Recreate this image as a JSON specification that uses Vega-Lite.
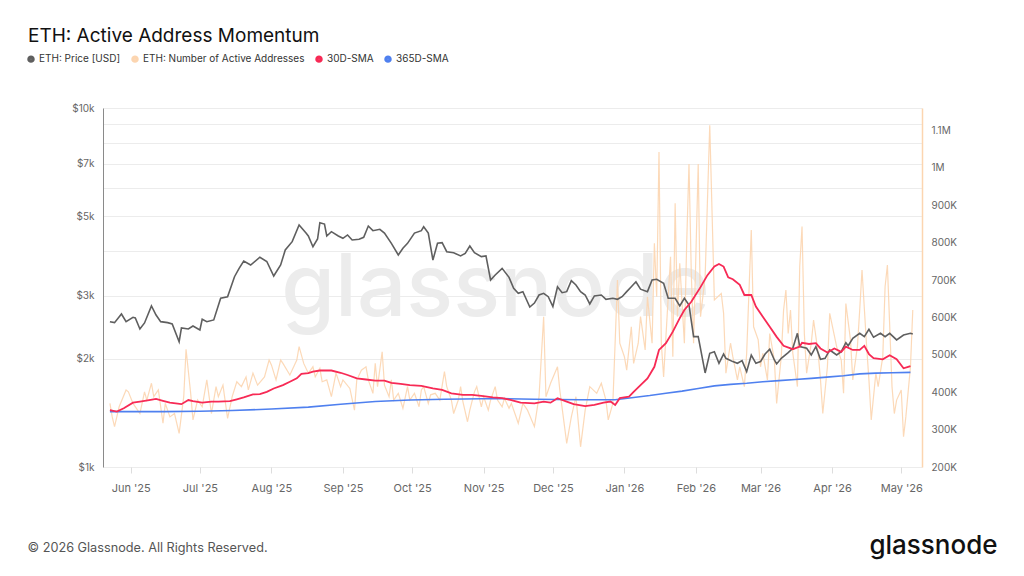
{
  "$schema": "https://vega.github.io/schema/vega-lite/v6.json",
  "width": 819,
  "height": 359,
  "autosize": {"type": "none"},
  "padding": {"left": 103, "top": 108, "right": 102, "bottom": 109},
  "background": "white",
  "config": {"font": "Inter", "view": {"stroke": null}},
  "title": {"text": "ETH: Active Address Momentum", "anchor": "start", "fontSize": 19, "fontWeight": 400, "color": "#111111", "offset": 8, "dx": 2},
  "datasets": {
    "price": [
      {"date":"2025-05-23","value":2540},{"date":"2025-05-25","value":2524},{"date":"2025-05-28","value":2668},{"date":"2025-05-30","value":2540},
      {"date":"2025-06-02","value":2612},{"date":"2025-06-03","value":2600},{"date":"2025-06-05","value":2424},{"date":"2025-06-07","value":2519},
      {"date":"2025-06-10","value":2809},{"date":"2025-06-12","value":2651},{"date":"2025-06-14","value":2540},{"date":"2025-06-17","value":2524},
      {"date":"2025-06-19","value":2503},{"date":"2025-06-22","value":2234},{"date":"2025-06-23","value":2440},{"date":"2025-06-26","value":2424},
      {"date":"2025-06-28","value":2471},{"date":"2025-07-01","value":2408},{"date":"2025-07-02","value":2579},{"date":"2025-07-04","value":2540},
      {"date":"2025-07-07","value":2568},{"date":"2025-07-10","value":2951},{"date":"2025-07-13","value":2981},{"date":"2025-07-16","value":3389},
      {"date":"2025-07-18","value":3576},{"date":"2025-07-20","value":3749},{"date":"2025-07-23","value":3653},{"date":"2025-07-27","value":3840},
      {"date":"2025-07-30","value":3737},{"date":"2025-08-02","value":3404},{"date":"2025-08-05","value":3653},{"date":"2025-08-07","value":4022},
      {"date":"2025-08-10","value":4243},{"date":"2025-08-13","value":4722},{"date":"2025-08-16","value":4483},{"date":"2025-08-17","value":4400},
      {"date":"2025-08-19","value":4108},{"date":"2025-08-21","value":4316},{"date":"2025-08-22","value":4793},{"date":"2025-08-24","value":4751},
      {"date":"2025-08-25","value":4400},{"date":"2025-08-27","value":4524},{"date":"2025-08-30","value":4400},{"date":"2025-09-01","value":4335},
      {"date":"2025-09-03","value":4429},{"date":"2025-09-05","value":4289},{"date":"2025-09-08","value":4308},{"date":"2025-09-10","value":4363},
      {"date":"2025-09-12","value":4690},{"date":"2025-09-14","value":4553},{"date":"2025-09-17","value":4593},{"date":"2025-09-19","value":4483},
      {"date":"2025-09-22","value":4198},{"date":"2025-09-25","value":3895},{"date":"2025-09-27","value":4069},{"date":"2025-09-29","value":4198},
      {"date":"2025-10-02","value":4483},{"date":"2025-10-05","value":4553},{"date":"2025-10-06","value":4671},{"date":"2025-10-08","value":4483},
      {"date":"2025-10-10","value":3772},{"date":"2025-10-12","value":4198},{"date":"2025-10-14","value":4214},{"date":"2025-10-16","value":3978},
      {"date":"2025-10-19","value":3953},{"date":"2025-10-22","value":3871},{"date":"2025-10-24","value":3937},{"date":"2025-10-26","value":4126},
      {"date":"2025-10-28","value":3953},{"date":"2025-10-31","value":3854},{"date":"2025-11-02","value":3871},{"date":"2025-11-04","value":3318},
      {"date":"2025-11-06","value":3426},{"date":"2025-11-09","value":3576},{"date":"2025-11-12","value":3375},{"date":"2025-11-14","value":3146},
      {"date":"2025-11-16","value":3047},{"date":"2025-11-18","value":3079},{"date":"2025-11-21","value":2790},{"date":"2025-11-23","value":2862},
      {"date":"2025-11-25","value":3014},{"date":"2025-11-27","value":3047},{"date":"2025-11-29","value":2981},{"date":"2025-12-01","value":2800},
      {"date":"2025-12-03","value":3178},{"date":"2025-12-05","value":3059},{"date":"2025-12-07","value":3079},{"date":"2025-12-09","value":3303},
      {"date":"2025-12-11","value":3213},{"date":"2025-12-13","value":3079},{"date":"2025-12-15","value":3014},{"date":"2025-12-17","value":2845},
      {"date":"2025-12-19","value":2995},{"date":"2025-12-22","value":3014},{"date":"2025-12-24","value":2932},{"date":"2025-12-27","value":2951},
      {"date":"2025-12-29","value":2932},{"date":"2025-12-31","value":2981},{"date":"2026-01-02","value":3079},{"date":"2026-01-04","value":3178},
      {"date":"2026-01-06","value":3282},{"date":"2026-01-08","value":3128},{"date":"2026-01-11","value":3079},{"date":"2026-01-13","value":3318},
      {"date":"2026-01-15","value":3333},{"date":"2026-01-18","value":3247},{"date":"2026-01-20","value":2951},{"date":"2026-01-23","value":2951},
      {"date":"2026-01-25","value":2809},{"date":"2026-01-27","value":2951},{"date":"2026-01-29","value":2827},{"date":"2026-01-31","value":2307},
      {"date":"2026-02-02","value":2307},{"date":"2026-02-05","value":1828},{"date":"2026-02-07","value":2074},{"date":"2026-02-09","value":2095},
      {"date":"2026-02-11","value":1945},{"date":"2026-02-13","value":2064},{"date":"2026-02-14","value":2008},{"date":"2026-02-17","value":1966},
      {"date":"2026-02-19","value":1945},{"date":"2026-02-21","value":1978},{"date":"2026-02-23","value":1844},{"date":"2026-02-25","value":2051},
      {"date":"2026-02-27","value":1945},{"date":"2026-03-01","value":1966},{"date":"2026-03-03","value":2064},{"date":"2026-03-05","value":2128},
      {"date":"2026-03-07","value":1987},{"date":"2026-03-08","value":1937},{"date":"2026-03-10","value":2008},{"date":"2026-03-13","value":2082},
      {"date":"2026-03-15","value":2142},{"date":"2026-03-17","value":2357},{"date":"2026-03-18","value":2164},{"date":"2026-03-21","value":2142},
      {"date":"2026-03-23","value":2051},{"date":"2026-03-25","value":2164},{"date":"2026-03-27","value":1996},{"date":"2026-03-29","value":2008},
      {"date":"2026-03-31","value":2118},{"date":"2026-04-03","value":2051},{"date":"2026-04-05","value":2095},{"date":"2026-04-07","value":2219},
      {"date":"2026-04-08","value":2176},{"date":"2026-04-10","value":2284},{"date":"2026-04-13","value":2357},{"date":"2026-04-15","value":2307},
      {"date":"2026-04-17","value":2419},{"date":"2026-04-19","value":2298},{"date":"2026-04-22","value":2357},{"date":"2026-04-24","value":2307},
      {"date":"2026-04-26","value":2357},{"date":"2026-04-29","value":2259},{"date":"2026-05-02","value":2332},{"date":"2026-05-05","value":2357},
      {"date":"2026-05-06","value":2347}
    ],
    "aa": [
      {"date":"2025-05-23","value":370000},{"date":"2025-05-24","value":334000},{"date":"2025-05-25","value":308000},{"date":"2025-05-27","value":361000},
      {"date":"2025-05-30","value":406000},{"date":"2025-05-31","value":401000},{"date":"2025-06-02","value":370000},{"date":"2025-06-05","value":343000},
      {"date":"2025-06-07","value":401000},{"date":"2025-06-08","value":379000},{"date":"2025-06-10","value":424000},{"date":"2025-06-11","value":388000},
      {"date":"2025-06-13","value":406000},{"date":"2025-06-15","value":317000},{"date":"2025-06-16","value":370000},{"date":"2025-06-18","value":334000},
      {"date":"2025-06-20","value":343000},{"date":"2025-06-22","value":290000},{"date":"2025-06-24","value":388000},{"date":"2025-06-25","value":515000},
      {"date":"2025-06-27","value":397000},{"date":"2025-06-28","value":326000},{"date":"2025-06-30","value":379000},{"date":"2025-07-02","value":361000},
      {"date":"2025-07-04","value":433000},{"date":"2025-07-06","value":343000},{"date":"2025-07-08","value":415000},{"date":"2025-07-09","value":388000},
      {"date":"2025-07-11","value":419000},{"date":"2025-07-13","value":330000},{"date":"2025-07-15","value":388000},{"date":"2025-07-17","value":428000},
      {"date":"2025-07-19","value":415000},{"date":"2025-07-21","value":441000},{"date":"2025-07-22","value":406000},{"date":"2025-07-24","value":451000},
      {"date":"2025-07-26","value":419000},{"date":"2025-07-29","value":441000},{"date":"2025-07-31","value":486000},{"date":"2025-08-01","value":473000},
      {"date":"2025-08-03","value":433000},{"date":"2025-08-05","value":486000},{"date":"2025-08-06","value":477000},{"date":"2025-08-09","value":446000},
      {"date":"2025-08-12","value":486000},{"date":"2025-08-13","value":522000},{"date":"2025-08-15","value":477000},{"date":"2025-08-17","value":451000},
      {"date":"2025-08-19","value":468000},{"date":"2025-08-20","value":441000},{"date":"2025-08-22","value":464000},{"date":"2025-08-23","value":428000},
      {"date":"2025-08-25","value":433000},{"date":"2025-08-27","value":388000},{"date":"2025-08-29","value":451000},{"date":"2025-08-31","value":415000},
      {"date":"2025-09-01","value":433000},{"date":"2025-09-04","value":410000},{"date":"2025-09-06","value":352000},{"date":"2025-09-07","value":433000},
      {"date":"2025-09-09","value":459000},{"date":"2025-09-11","value":468000},{"date":"2025-09-12","value":433000},{"date":"2025-09-14","value":397000},
      {"date":"2025-09-15","value":477000},{"date":"2025-09-16","value":415000},{"date":"2025-09-18","value":508000},{"date":"2025-09-19","value":419000},
      {"date":"2025-09-21","value":388000},{"date":"2025-09-22","value":433000},{"date":"2025-09-23","value":379000},{"date":"2025-09-25","value":397000},
      {"date":"2025-09-27","value":357000},{"date":"2025-09-29","value":415000},{"date":"2025-09-30","value":379000},{"date":"2025-10-02","value":397000},
      {"date":"2025-10-04","value":361000},{"date":"2025-10-05","value":406000},{"date":"2025-10-06","value":415000},{"date":"2025-10-08","value":370000},
      {"date":"2025-10-09","value":393000},{"date":"2025-10-11","value":397000},{"date":"2025-10-13","value":379000},{"date":"2025-10-15","value":455000},
      {"date":"2025-10-16","value":415000},{"date":"2025-10-18","value":379000},{"date":"2025-10-19","value":343000},{"date":"2025-10-21","value":379000},
      {"date":"2025-10-22","value":415000},{"date":"2025-10-23","value":375000},{"date":"2025-10-25","value":321000},{"date":"2025-10-26","value":352000},
      {"date":"2025-10-28","value":401000},{"date":"2025-10-29","value":415000},{"date":"2025-10-31","value":361000},{"date":"2025-11-01","value":388000},
      {"date":"2025-11-03","value":352000},{"date":"2025-11-04","value":379000},{"date":"2025-11-06","value":415000},{"date":"2025-11-07","value":379000},
      {"date":"2025-11-09","value":361000},{"date":"2025-11-10","value":384000},{"date":"2025-11-12","value":357000},{"date":"2025-11-13","value":370000},
      {"date":"2025-11-16","value":317000},{"date":"2025-11-18","value":370000},{"date":"2025-11-20","value":352000},{"date":"2025-11-23","value":308000},
      {"date":"2025-11-25","value":388000},{"date":"2025-11-27","value":602000},{"date":"2025-11-28","value":388000},{"date":"2025-11-30","value":424000},
      {"date":"2025-12-03","value":468000},{"date":"2025-12-04","value":406000},{"date":"2025-12-07","value":263000},{"date":"2025-12-09","value":334000},
      {"date":"2025-12-11","value":388000},{"date":"2025-12-13","value":254000},{"date":"2025-12-15","value":352000},{"date":"2025-12-17","value":415000},
      {"date":"2025-12-20","value":397000},{"date":"2025-12-22","value":424000},{"date":"2025-12-24","value":379000},{"date":"2025-12-25","value":326000},
      {"date":"2025-12-27","value":370000},{"date":"2025-12-29","value":700000},{"date":"2025-12-30","value":531000},{"date":"2026-01-01","value":495000},
      {"date":"2026-01-02","value":459000},{"date":"2026-01-04","value":575000},{"date":"2026-01-05","value":477000},{"date":"2026-01-07","value":531000},
      {"date":"2026-01-08","value":602000},{"date":"2026-01-10","value":513000},{"date":"2026-01-11","value":655000},{"date":"2026-01-13","value":531000},
      {"date":"2026-01-14","value":798000},{"date":"2026-01-15","value":655000},{"date":"2026-01-16","value":1042000},{"date":"2026-01-17","value":531000},
      {"date":"2026-01-18","value":441000},{"date":"2026-01-20","value":655000},{"date":"2026-01-21","value":762000},{"date":"2026-01-22","value":495000},
      {"date":"2026-01-23","value":905000},{"date":"2026-01-24","value":602000},{"date":"2026-01-25","value":745000},{"date":"2026-01-27","value":531000},
      {"date":"2026-01-28","value":798000},{"date":"2026-01-29","value":1010000},{"date":"2026-01-30","value":718000},{"date":"2026-01-31","value":531000},
      {"date":"2026-02-02","value":1010000},{"date":"2026-02-03","value":602000},{"date":"2026-02-05","value":709000},{"date":"2026-02-07","value":1114000},
      {"date":"2026-02-09","value":647000},{"date":"2026-02-12","value":664000},{"date":"2026-02-13","value":611000},{"date":"2026-02-14","value":451000},
      {"date":"2026-02-16","value":531000},{"date":"2026-02-17","value":495000},{"date":"2026-02-19","value":433000},{"date":"2026-02-20","value":468000},
      {"date":"2026-02-22","value":415000},{"date":"2026-02-23","value":504000},{"date":"2026-02-25","value":834000},{"date":"2026-02-26","value":575000},
      {"date":"2026-02-28","value":540000},{"date":"2026-03-01","value":468000},{"date":"2026-03-02","value":504000},{"date":"2026-03-04","value":433000},
      {"date":"2026-03-05","value":557000},{"date":"2026-03-07","value":486000},{"date":"2026-03-08","value":370000},{"date":"2026-03-10","value":495000},
      {"date":"2026-03-11","value":620000},{"date":"2026-03-12","value":673000},{"date":"2026-03-13","value":557000},{"date":"2026-03-14","value":620000},
      {"date":"2026-03-15","value":504000},{"date":"2026-03-17","value":415000},{"date":"2026-03-18","value":736000},{"date":"2026-03-19","value":843000},
      {"date":"2026-03-20","value":557000},{"date":"2026-03-21","value":451000},{"date":"2026-03-23","value":531000},{"date":"2026-03-24","value":593000},
      {"date":"2026-03-26","value":504000},{"date":"2026-03-27","value":433000},{"date":"2026-03-28","value":343000},{"date":"2026-03-30","value":468000},
      {"date":"2026-03-31","value":611000},{"date":"2026-04-03","value":522000},{"date":"2026-04-05","value":486000},{"date":"2026-04-06","value":397000},
      {"date":"2026-04-07","value":637000},{"date":"2026-04-09","value":540000},{"date":"2026-04-10","value":433000},{"date":"2026-04-12","value":522000},
      {"date":"2026-04-13","value":620000},{"date":"2026-04-14","value":727000},{"date":"2026-04-16","value":522000},{"date":"2026-04-17","value":433000},
      {"date":"2026-04-18","value":326000},{"date":"2026-04-20","value":451000},{"date":"2026-04-21","value":415000},{"date":"2026-04-23","value":495000},
      {"date":"2026-04-24","value":682000},{"date":"2026-04-25","value":740000},{"date":"2026-04-27","value":415000},{"date":"2026-04-28","value":343000},
      {"date":"2026-04-29","value":379000},{"date":"2026-05-01","value":406000},{"date":"2026-05-02","value":281000},{"date":"2026-05-03","value":334000},
      {"date":"2026-05-05","value":468000},{"date":"2026-05-06","value":620000}
    ],
    "sma30": [
      {"date":"2025-05-23","value":352000},{"date":"2025-05-26","value":348000},{"date":"2025-05-29","value":357000},{"date":"2025-06-02","value":372000},
      {"date":"2025-06-05","value":375000},{"date":"2025-06-09","value":379000},{"date":"2025-06-12","value":382000},{"date":"2025-06-15","value":377000},
      {"date":"2025-06-18","value":372000},{"date":"2025-06-23","value":368000},{"date":"2025-06-26","value":379000},{"date":"2025-06-28","value":376000},
      {"date":"2025-07-02","value":372000},{"date":"2025-07-06","value":375000},{"date":"2025-07-09","value":375000},{"date":"2025-07-14","value":376000},
      {"date":"2025-07-17","value":381000},{"date":"2025-07-20","value":386000},{"date":"2025-07-24","value":394000},{"date":"2025-07-27","value":395000},
      {"date":"2025-07-30","value":401000},{"date":"2025-08-02","value":410000},{"date":"2025-08-06","value":419000},{"date":"2025-08-09","value":428000},
      {"date":"2025-08-12","value":437000},{"date":"2025-08-14","value":449000},{"date":"2025-08-17","value":451000},{"date":"2025-08-19","value":455000},
      {"date":"2025-08-22","value":458000},{"date":"2025-08-27","value":458000},{"date":"2025-08-31","value":452000},{"date":"2025-09-03","value":446000},
      {"date":"2025-09-07","value":437000},{"date":"2025-09-11","value":434000},{"date":"2025-09-15","value":431000},{"date":"2025-09-19","value":431000},
      {"date":"2025-09-22","value":425000},{"date":"2025-09-26","value":422000},{"date":"2025-09-30","value":419000},{"date":"2025-10-05","value":417000},
      {"date":"2025-10-10","value":410000},{"date":"2025-10-14","value":406000},{"date":"2025-10-18","value":397000},{"date":"2025-10-23","value":393000},
      {"date":"2025-10-27","value":393000},{"date":"2025-10-31","value":390000},{"date":"2025-11-05","value":386000},{"date":"2025-11-09","value":384000},
      {"date":"2025-11-13","value":379000},{"date":"2025-11-17","value":372000},{"date":"2025-11-23","value":370000},{"date":"2025-11-27","value":375000},
      {"date":"2025-11-30","value":372000},{"date":"2025-12-03","value":384000},{"date":"2025-12-07","value":375000},{"date":"2025-12-10","value":368000},
      {"date":"2025-12-15","value":363000},{"date":"2025-12-19","value":366000},{"date":"2025-12-23","value":372000},{"date":"2025-12-26","value":375000},
      {"date":"2025-12-28","value":366000},{"date":"2025-12-30","value":384000},{"date":"2026-01-03","value":388000},{"date":"2026-01-05","value":401000},
      {"date":"2026-01-08","value":419000},{"date":"2026-01-11","value":437000},{"date":"2026-01-14","value":468000},{"date":"2026-01-16","value":513000},
      {"date":"2026-01-19","value":531000},{"date":"2026-01-22","value":562000},{"date":"2026-01-25","value":598000},{"date":"2026-01-27","value":620000},
      {"date":"2026-01-30","value":642000},{"date":"2026-02-03","value":681000},{"date":"2026-02-06","value":713000},{"date":"2026-02-09","value":736000},
      {"date":"2026-02-11","value":743000},{"date":"2026-02-13","value":736000},{"date":"2026-02-15","value":707000},{"date":"2026-02-17","value":702000},
      {"date":"2026-02-20","value":687000},{"date":"2026-02-22","value":660000},{"date":"2026-02-25","value":660000},{"date":"2026-02-27","value":629000},
      {"date":"2026-03-02","value":602000},{"date":"2026-03-05","value":575000},{"date":"2026-03-08","value":548000},{"date":"2026-03-11","value":524000},
      {"date":"2026-03-15","value":515000},{"date":"2026-03-18","value":522000},{"date":"2026-03-19","value":532000},{"date":"2026-03-22","value":529000},
      {"date":"2026-03-25","value":531000},{"date":"2026-03-27","value":517000},{"date":"2026-03-30","value":506000},{"date":"2026-04-02","value":517000},
      {"date":"2026-04-05","value":508000},{"date":"2026-04-07","value":522000},{"date":"2026-04-10","value":513000},{"date":"2026-04-13","value":513000},
      {"date":"2026-04-15","value":524000},{"date":"2026-04-17","value":502000},{"date":"2026-04-19","value":491000},{"date":"2026-04-23","value":488000},
      {"date":"2026-04-26","value":499000},{"date":"2026-04-29","value":488000},{"date":"2026-05-02","value":464000},{"date":"2026-05-04","value":468000},
      {"date":"2026-05-05","value":470000}
    ],
    "sma365": [
      {"date":"2025-05-23","value":348000},{"date":"2025-06-15","value":348000},{"date":"2025-07-01","value":349000},{"date":"2025-07-15","value":351000},
      {"date":"2025-08-01","value":355000},{"date":"2025-08-17","value":360000},{"date":"2025-08-31","value":368000},{"date":"2025-09-15","value":375000},
      {"date":"2025-09-30","value":379000},{"date":"2025-10-15","value":381000},{"date":"2025-11-09","value":383000},{"date":"2025-11-23","value":381000},
      {"date":"2025-12-13","value":380000},{"date":"2025-12-28","value":380000},{"date":"2026-01-05","value":386000},{"date":"2026-01-12","value":391000},
      {"date":"2026-01-19","value":397000},{"date":"2026-01-26","value":403000},{"date":"2026-02-02","value":410000},{"date":"2026-02-09","value":417000},
      {"date":"2026-02-16","value":421000},{"date":"2026-02-23","value":424000},{"date":"2026-03-02","value":428000},{"date":"2026-03-09","value":431000},
      {"date":"2026-03-16","value":434000},{"date":"2026-03-23","value":437000},{"date":"2026-03-31","value":441000},{"date":"2026-04-06","value":444000},
      {"date":"2026-04-13","value":449000},{"date":"2026-04-20","value":451000},{"date":"2026-04-27","value":452000},{"date":"2026-05-05","value":453000}
    ]
  },
  "layer": [
    {
      "data": {"name": "aa"},
      "mark": {"type": "line", "strokeWidth": 1.2, "opacity": 0.9},
      "encoding": {
        "x": {
          "field": "date", "type": "temporal",
          "scale": {"type": "utc", "domain": [{"year": 2025, "month": 5, "date": 20, "utc": true}, {"year": 2026, "month": 5, "date": 10, "utc": true}]},
          "axis": {
            "format": "%b '%y", "tickCount": {"interval": "month", "step": 1},
            "grid": false, "domain": false, "tickColor": "#dddddd", "tickSize": 6,
            "labelColor": "#666666", "labelFontSize": 11, "labelPadding": 9, "labelFlush": false, "labelOverlap": false,
            "title": "© 2026 Glassnode. All Rights Reserved.", "titleX": -76, "titleY": 84, "titleAlign": "left", "titleAnchor": "start",
            "titleBaseline": "alphabetic", "titleFontSize": 12.7, "titleFontWeight": 400, "titleColor": "#555555"
          }
        },
        "y": {
          "field": "value", "type": "quantitative",
          "scale": {"domain": [200000, 1160000], "nice": false, "zero": false},
          "axis": {
            "orient": "right", "values": [200000, 300000, 400000, 500000, 600000, 700000, 800000, 900000, 1000000, 1100000],
            "labelExpr": "datum.value >= 1000000 ? format(datum.value / 1000000, '~g') + 'M' : format(datum.value / 1000, 'd') + 'K'",
            "grid": false, "ticks": false, "domainColor": "#fcd5b0", "domainWidth": 1.5,
            "labelColor": "#666666", "labelFontSize": 10, "labelPadding": 9,
            "title": "glassnode", "titleX": 75, "titleY": 445, "titleAngle": 0, "titleAlign": "right", "titleAnchor": null,
            "titleBaseline": "alphabetic", "titleFontSize": 26, "titleFontWeight": 500, "titleColor": "#111111"
          }
        },
        "color": {
          "datum": "ETH: Number of Active Addresses",
          "scale": {"domain": ["ETH: Price [USD]", "ETH: Number of Active Addresses", "30D-SMA", "365D-SMA"], "range": ["#5f5f5f", "#fcd5b0", "#f72a55", "#4f80ef"]},
          "legend": {
            "orient": "none", "legendX": -77, "legendY": -54, "direction": "horizontal", "title": null,
            "symbolType": "circle", "symbolSize": 12, "symbolStrokeWidth": 4, "symbolOpacity": 1, "labelFontSize": 10, "labelColor": "#333333",
            "labelLimit": 400, "columnPadding": 4, "labelOffset": 3
          }
        }
      }
    },
    {
      "data": {"name": "price"},
      "mark": {"type": "line", "strokeWidth": 1.6},
      "encoding": {
        "x": {"field": "date", "type": "temporal", "scale": {"type": "utc", "domain": [{"year": 2025, "month": 5, "date": 20, "utc": true}, {"year": 2026, "month": 5, "date": 10, "utc": true}]}},
        "y": {
          "field": "value", "type": "quantitative",
          "scale": {"type": "log", "domain": [1000, 10000], "nice": false},
          "axis": {
            "orient": "left", "values": [1000, 2000, 3000, 4000, 5000, 6000, 7000, 8000, 9000, 10000],
            "labelExpr": "indexof([1000, 2000, 3000, 5000, 7000, 10000], datum.value) >= 0 ? '$' + (datum.value / 1000) + 'k' : ''",
            "grid": true, "gridColor": "#ececec", "ticks": false, "domainColor": "#8a8a8a", "domainWidth": 1,
            "labelColor": "#666666", "labelFontSize": 10, "labelPadding": 9,
            "title": "glassnode", "titleX": 392, "titleY": 207, "titleAngle": 0, "titleAlign": "center", "titleAnchor": null,
            "titleBaseline": "alphabetic", "titleFontSize": 87, "titleFontWeight": 500, "titleColor": "#ececec"
          }
        },
        "color": {
          "datum": "ETH: Price [USD]",
          "scale": {"domain": ["ETH: Price [USD]", "ETH: Number of Active Addresses", "30D-SMA", "365D-SMA"], "range": ["#5f5f5f", "#fcd5b0", "#f72a55", "#4f80ef"]}
        }
      }
    },
    {
      "data": {"name": "sma365"},
      "mark": {"type": "line", "strokeWidth": 1.6},
      "encoding": {
        "x": {"field": "date", "type": "temporal", "scale": {"type": "utc", "domain": [{"year": 2025, "month": 5, "date": 20, "utc": true}, {"year": 2026, "month": 5, "date": 10, "utc": true}]}},
        "y": {"field": "value", "type": "quantitative", "scale": {"domain": [200000, 1160000], "nice": false, "zero": false}, "axis": null},
        "color": {
          "datum": "365D-SMA",
          "scale": {"domain": ["ETH: Price [USD]", "ETH: Number of Active Addresses", "30D-SMA", "365D-SMA"], "range": ["#5f5f5f", "#fcd5b0", "#f72a55", "#4f80ef"]}
        }
      }
    },
    {
      "data": {"name": "sma30"},
      "mark": {"type": "line", "strokeWidth": 1.8},
      "encoding": {
        "x": {"field": "date", "type": "temporal", "scale": {"type": "utc", "domain": [{"year": 2025, "month": 5, "date": 20, "utc": true}, {"year": 2026, "month": 5, "date": 10, "utc": true}]}},
        "y": {"field": "value", "type": "quantitative", "scale": {"domain": [200000, 1160000], "nice": false, "zero": false}, "axis": null},
        "color": {
          "datum": "30D-SMA",
          "scale": {"domain": ["ETH: Price [USD]", "ETH: Number of Active Addresses", "30D-SMA", "365D-SMA"], "range": ["#5f5f5f", "#fcd5b0", "#f72a55", "#4f80ef"]}
        }
      }
    }
  ],
  "resolve": {"scale": {"y": "independent"}, "axis": {"y": "independent"}}
}
